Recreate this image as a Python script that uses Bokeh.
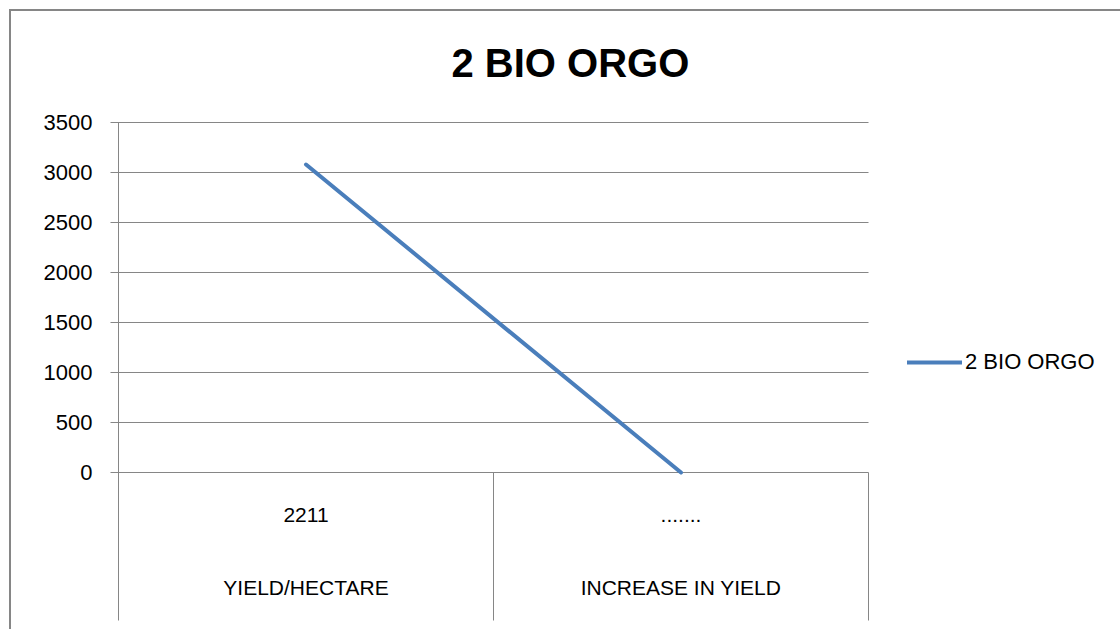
from bokeh.plotting import figure
from bokeh.models import (FixedTicker, LinearAxis, Range1d, Legend, LegendItem)
from bokeh.embed import file_html
from bokeh.resources import INLINE

# ---- data ----
categories = ["2211", "......."]
groups = ["YIELD/HECTARE", "INCREASE IN YIELD"]
values = [3080, 0]
series_name = "2 BIO ORGO"
chart_title = "2 BIO ORGO"
y_ticks = [0, 500, 1000, 1500, 2000, 2500, 3000, 3500]

GRID = "#868686"
FONT = "Liberation Sans"
LINE = "#4A7EBB"

# ---- geometry (pixels) ----
CANVAS_W, CANVAS_H = 1120, 629
LEFT, TOP = 118, 122
AREA_W, AREA_H = 750, 350          # plot area that holds the categories

n = len(categories)
xs = [i + 0.5 for i in range(n)]
bounds = list(range(n + 1))
x_end = n * (CANVAS_W - LEFT) / AREA_W   # frame runs on to the right edge (legend room)

p = figure(width=CANVAS_W, height=CANVAS_H, output_backend="svg", toolbar_location=None,
           x_range=Range1d(0, x_end), y_range=Range1d(y_ticks[0], y_ticks[-1]),
           x_axis_type=None, y_axis_type=None,
           min_border_left=LEFT, min_border_top=TOP, min_border_right=0,
           min_border_bottom=CANVAS_H - TOP - AREA_H)
p.border_fill_color = None
p.background_fill_color = None
p.outline_line_color = None
p.styles = {"box-shadow": "inset 9px 9px 0 #ffffff, inset 11px 11px 0 #868686"}

# title
p.title.text = chart_title
p.title.align = "left"
p.title.offset = 333
p.title.text_font = FONT
p.title.text_font_size = "40px"
p.title.text_font_style = "bold"
p.title.text_color = "black"
if "standoff" in p.title.properties():
    p.title.standoff = 76

# y axis; its inward ticks form the horizontal gridlines across the plot area
yaxis = LinearAxis(ticker=FixedTicker(ticks=y_ticks),
                   major_tick_out=8, major_tick_in=AREA_W,
                   minor_tick_out=0, minor_tick_in=0,
                   axis_line_color=GRID, major_tick_line_color=GRID,
                   major_label_standoff=18,
                   major_label_text_font=FONT, major_label_text_font_size="22px",
                   major_label_text_color="black")
p.add_layout(yaxis, "left")

# x axis: category labels + dividers
xaxis1 = LinearAxis(ticker=FixedTicker(ticks=xs, minor_ticks=bounds),
                    major_label_overrides={xs[i]: categories[i] for i in range(n)},
                    major_tick_out=0, major_tick_in=0,
                    minor_tick_out=148, minor_tick_in=0,
                    minor_tick_line_color=GRID, axis_line_color=None,
                    major_label_standoff=-113,
                    major_label_text_font=FONT, major_label_text_font_size="21px",
                    major_label_text_color="black")
p.add_layout(xaxis1, "below")
xaxis2 = LinearAxis(ticker=FixedTicker(ticks=xs),
                    major_label_overrides={xs[i]: groups[i] for i in range(n)},
                    major_tick_out=0, major_tick_in=0,
                    minor_tick_out=0, minor_tick_in=0,
                    axis_line_color=None,
                    major_label_standoff=51,
                    major_label_text_font=FONT, major_label_text_font_size="21px",
                    major_label_text_color="black")
p.add_layout(xaxis2, "below")

r = p.line(xs, values, line_color=LINE, line_width=4, line_cap="round")
r.level = "overlay"

legend = Legend(items=[LegendItem(label=series_name, renderers=[r])],
                location=(789, 97), orientation="vertical",
                glyph_width=55, glyph_height=20, label_standoff=3,
                padding=0, margin=0, border_line_color=None,
                background_fill_alpha=0,
                label_text_font=FONT, label_text_font_size="22px",
                label_text_color="black")
p.add_layout(legend, "center")

open("out.html", "w").write(file_html(p, INLINE))
